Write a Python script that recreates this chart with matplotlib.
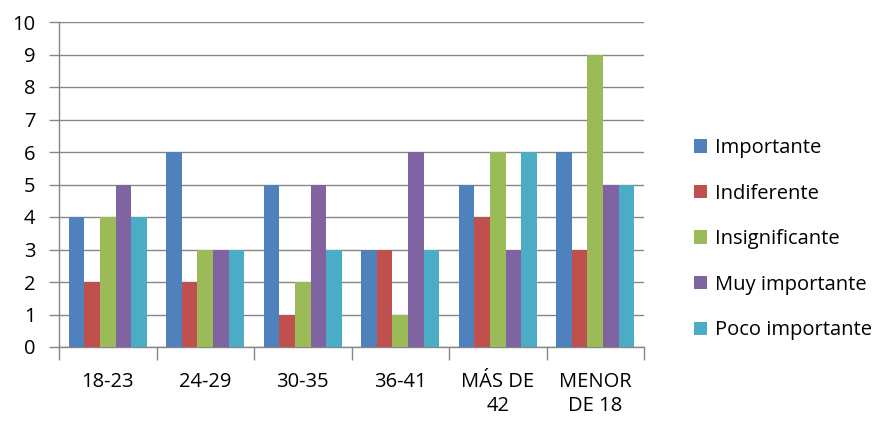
import matplotlib
matplotlib.use("Agg")
import matplotlib.pyplot as plt
import numpy as np
from matplotlib.patches import Patch

categories = ["18-23", "24-29", "30-35", "36-41", "MÁS DE\n42", "MENOR\nDE 18"]
series_names = ["Importante", "Indiferente", "Insignificante", "Muy importante", "Poco importante"]
importante = [4, 6, 5, 3, 5, 6]
indiferente = [2, 2, 1, 3, 4, 3]
insignificante = [4, 3, 2, 1, 6, 9]
muy_importante = [5, 3, 5, 6, 3, 5]
poco_importante = [4, 3, 3, 3, 6, 5]
y_ticks = list(range(0, 11))

series = [importante, indiferente, insignificante, muy_importante, poco_importante]
colors = ["#4F81BD", "#C0504D", "#9BBB59", "#8064A2", "#4BACC6"]

plt.rcParams["font.family"] = ["Open Sans", "DejaVu Sans"]
FS = 14.5

fig = plt.figure(figsize=(8.83, 4.22), dpi=100)
ax = fig.add_axes([59 / 883, 1 - 347 / 422, (644 - 59) / 883, (347 - 22) / 422])

n = len(series)
group_w = 0.795
bw = group_w / n
x = np.arange(len(categories))
for i, (vals, c) in enumerate(zip(series, colors)):
    ax.bar(x - group_w / 2 + bw * (i + 0.5), vals, width=bw, color=c, zorder=3)

ax.set_xlim(-0.5, len(categories) - 0.5)
ax.set_ylim(0, 10)
ax.set_yticks(y_ticks)
ax.set_yticklabels([str(t) for t in y_ticks])
ax.yaxis.grid(True, color="#868686", linewidth=1.0, zorder=0)
ax.tick_params(axis="y", length=7, width=1, color="#868686", labelsize=FS, pad=10)

# category boundary ticks below the axis
ax.set_xticks(np.arange(len(categories) + 1) - 0.5)
ax.set_xticklabels([])
ax.tick_params(axis="x", which="major", length=9, width=1, color="#868686")
ax.set_xticks(x, minor=True)
ax.set_xticklabels(categories, minor=True, fontsize=FS, linespacing=1.25)
ax.tick_params(axis="x", which="minor", length=0, pad=18)

for s in ["top", "right"]:
    ax.spines[s].set_visible(False)
for s in ["left", "bottom"]:
    ax.spines[s].set_color("#868686")
    ax.spines[s].set_linewidth(1.0)

handles = [Patch(facecolor=c, edgecolor="none") for c in colors]
fig.legend(handles, series_names, loc="upper left", bbox_to_anchor=(684 / 883, 1 - 128 / 422),
           frameon=False, fontsize=FS, handlelength=0.65, handleheight=0.65,
           handletextpad=0.4, labelspacing=1.27, borderpad=0)

fig.savefig("out.png", dpi=100, facecolor="white")
